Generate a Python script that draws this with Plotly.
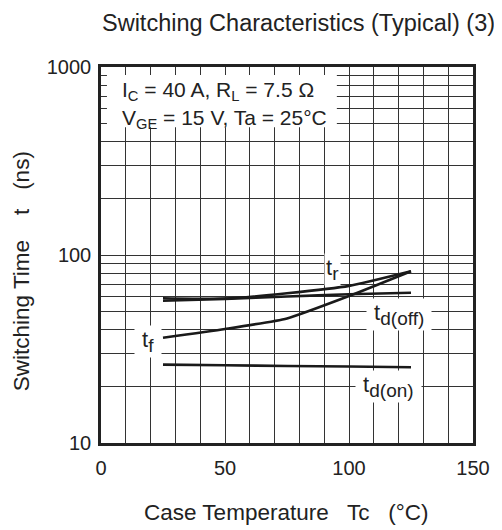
import plotly.graph_objects as go

# case temperature (deg C) and switching times (ns)
tc = [25, 50, 75, 100, 125]
t_r = [58.9, 58.6, 62.6, 68.5, 82.0]
t_f = [36.3, 40.4, 46.0, 60.5, 82.0]
td_off = [57.1, 58.4, 60.2, 61.8, 63.0]
td_on = [26.1, 25.9, 25.7, 25.5, 25.3]

x_ticks = [0, 50, 100, 150]
y_ticks = [10, 100, 1000]
y_minor = [m * d for d in (10, 100) for m in range(2, 10)]

FONT = "Liberation Sans, Arial, sans-serif"
INK = "#222222"
GRID = "#333333"

fig = go.Figure()
for ys in (t_r, t_f, td_off, td_on):
    fig.add_trace(go.Scatter(x=tc, y=ys, mode="lines",
                             line=dict(color="#1a1a1a", width=2.6, shape="spline", smoothing=0.5),
                             showlegend=False, hoverinfo="skip"))

# page body has an 8px margin, so the figure is 8px smaller on each side
fig.update_layout(
    width=494, height=522,
    margin=dict(l=93, r=24, t=59, b=87),
    paper_bgcolor="white", plot_bgcolor="white",
    font=dict(family=FONT, color=INK, size=20),
)
fig.update_xaxes(
    range=[0, 150], tickvals=x_ticks, ticks="", showgrid=True,
    gridcolor=GRID, gridwidth=1,
    minor=dict(dtick=10, showgrid=True, gridcolor=GRID, gridwidth=1),
    showline=True, linecolor=INK, linewidth=2.5, mirror=True,
    tickfont=dict(size=20), ticklabelstandoff=5, zeroline=False,
)
fig.update_yaxes(
    type="log", range=[1, 3], tickvals=y_ticks, ticktext=[str(v) for v in y_ticks],
    ticks="", showgrid=True, gridcolor=GRID, gridwidth=1,
    minor=dict(tickvals=y_minor, showgrid=True, gridcolor=GRID, gridwidth=1),
    showline=True, linecolor=INK, linewidth=2.5, mirror=True,
    tickfont=dict(size=20), ticklabelstandoff=3, zeroline=False,
)

# white box behind the test conditions
fig.add_shape(type="rect", xref="paper", yref="paper", x0=0.016, x1=0.634, y0=0.840, y1=0.979,
              fillcolor="white", line_width=0, layer="above")

def note(text, x, y, size=20, **kw):
    kw.setdefault("xanchor", "center")
    kw.setdefault("yanchor", "middle")
    fig.add_annotation(text=text, xref="paper", yref="paper", x=x, y=y,
                       showarrow=False, font=dict(family=FONT, color=INK, size=size), **kw)

note("Switching Characteristics (Typical) (3)", 0.531, 1.117, size=23.5)
note("Switching Time    t   (ns)", -0.215, 0.457, size=22.5, textangle=-90)
note("Case Temperature   Tc   (°C)", 0.499, -0.186, size=22.5)

note("I<sub>C</sub> = 40 A, R<sub>L</sub> = 7.5 Ω", 0.050, 0.935, size=21, xanchor="left")
note("V<sub>GE</sub> = 15 V, Ta = 25°C", 0.050, 0.863, size=21, xanchor="left")

# labels sit on white boxes; non-breaking spaces widen the boxes sideways only
sub = '<sub><span style="font-size:19px">{}</span></sub>'
sp = "\u00a0"
lbl = dict(bgcolor="white", size=22, borderpad=1)
note("t" + sub.format("r"), 0.623, 0.462, **lbl)
note(sp + "t" + sub.format("d(off)") + sp, 0.801, 0.342, **lbl)
note(sp + "t" + sub.format("d(on)") + sp, 0.772, 0.150, **lbl)
note(sp + "t" + sub.format("f") + sp, 0.127, 0.271, **lbl)

fig.write_html("out.html")
